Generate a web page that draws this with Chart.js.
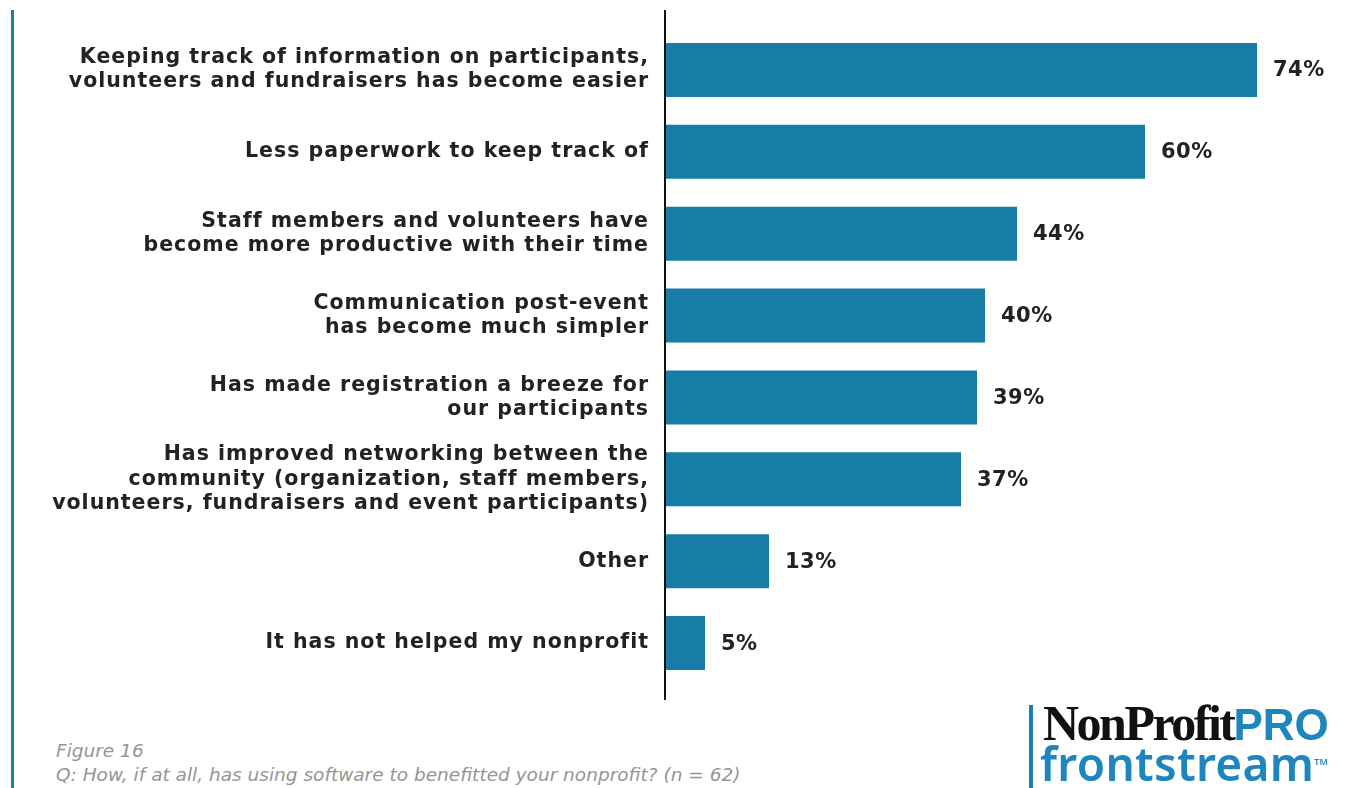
<!DOCTYPE html>
<html>
<head>
<meta charset="utf-8">
<script src="https://cdn.jsdelivr.net/npm/chart.js@4.4.1/dist/chart.umd.min.js"></script>
<style>
  body { margin: 0; background: #fff; width: 1348px; height: 788px; overflow: hidden; position: relative; font-family: "DejaVu Sans", sans-serif; }
  #wrap { position: absolute; left: 0; top: 0; width: 1348px; height: 710px; }
  .leftline { position: absolute; left: 11px; top: 10px; width: 3px; height: 778px; background: #1a7fb0; }
  .foot { position: absolute; left: 56px; color: #959595; font-style: italic; font-size: 18.5px; white-space: nowrap; }
  .logo-line { position: absolute; left: 1029px; top: 705px; width: 4px; height: 83px; background: #1a7fb0; }
  .np { position: absolute; left: 1043px; top: 694px; font-family: "Liberation Serif", serif; font-weight: bold; font-size: 50px; letter-spacing: -2.5px; color: #111; white-space: nowrap; }
  .np span { font-family: "Liberation Sans", sans-serif; font-size: 44px; letter-spacing: 0; color: #1d86bf; }
  .fs { position: absolute; left: 1040px; top: 732px; font-family: "Noto Sans", sans-serif; font-weight: 600; font-size: 46px; color: #1d86bf; letter-spacing: 0.3px; white-space: nowrap; }
</style>
</head>
<body>
<div class="leftline"></div>
<div id="wrap"><canvas id="c"></canvas></div>
<div class="foot" style="top:740px;">Figure 16</div>
<div class="foot" style="top:764px;">Q: How, if at all, has using software to benefitted your nonprofit? (n = 62)</div>
<div class="logo-line"></div>
<div class="np">NonProfit<span>PRO</span></div>
<div class="fs">frontstream<sup style="font-size:9px;">TM</sup></div>
<script>
const categories = [
    ['Keeping track of information on participants,', 'volunteers and fundraisers has become easier'],
    'Less paperwork to keep track of',
    ['Staff members and volunteers have', 'become more productive with their time'],
    ['Communication post-event', 'has become much simpler'],
    ['Has made registration a breeze for', 'our participants'],
    ['Has improved networking between the', 'community (organization, staff members,', 'volunteers, fundraisers and event participants)'],
    'Other',
    'It has not helped my nonprofit'
];
const values = [74, 60, 44, 40, 39, 37, 13, 5];

// ラベルの字間を広げる
const spacing = {
    id: 'spacing',
    beforeDraw(chart) {
        chart.ctx.letterSpacing = '1px';
    }
};

// 軸線とパーセント表示
const extras = {
    id: 'extras',
    afterDatasetsDraw(chart) {
        const ctx = chart.ctx;
        const x = chart.scales.x;
        const y = chart.scales.y;
        ctx.save();
        ctx.strokeStyle = '#111';
        ctx.lineWidth = 2;
        ctx.beginPath();
        ctx.moveTo(x.left, 10);
        ctx.lineTo(x.left, 700);
        ctx.stroke();
        ctx.fillStyle = '#222';
        ctx.letterSpacing = '0.5px';
        ctx.font = 'bold 21px "DejaVu Sans"';
        ctx.textBaseline = 'middle';
        values.forEach((v, i) => {
            ctx.fillText(v + '%', x.getPixelForValue(v) + 16, y.getPixelForValue(i) + 1);
        });
        ctx.restore();
    }
};

new Chart(document.getElementById('c'), {
    type: 'bar',
    data: {
        labels: categories,
        datasets: [{
            data: values,
            backgroundColor: '#177ca6',
            barPercentage: 0.66,
            categoryPercentage: 1
        }]
    },
    options: {
        indexAxis: 'y',
        responsive: true,
        maintainAspectRatio: false,
        animation: false,
        layout: { padding: { top: 29, bottom: 26, left: 0, right: 3 } },
        plugins: { legend: { display: false }, tooltip: { enabled: false } },
        scales: {
            x: { display: false, min: 0, max: 85 },
            y: {
                afterFit(scale) {
                    scale.width = 665;
                    scale.paddingTop = 0;
                    scale.paddingBottom = 0;
                },
                grid: { display: false },
                border: { display: false },
                ticks: {
                    color: '#222',
                    padding: 8,
                    font: { family: 'DejaVu Sans', weight: 'bold', size: 20.5, lineHeight: 1.18 }
                }
            }
        }
    },
    plugins: [spacing, extras]
});
</script>
</body>
</html>
